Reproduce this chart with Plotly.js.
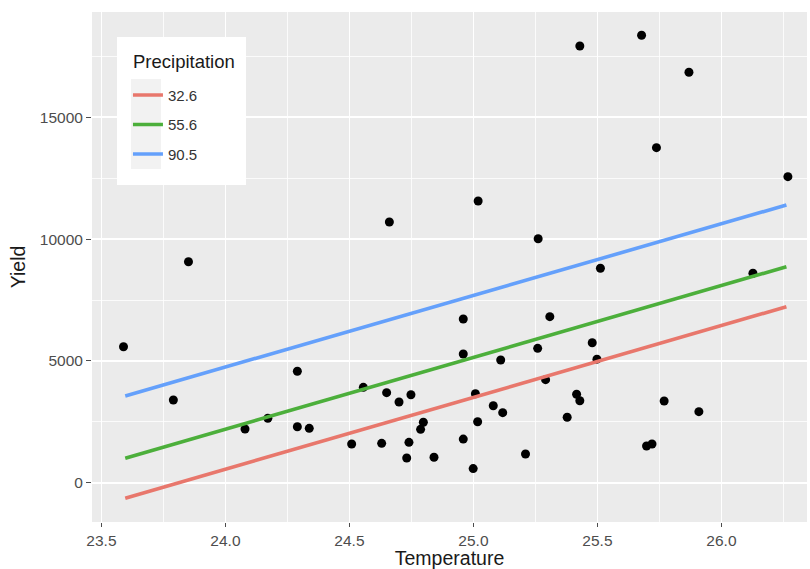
<!DOCTYPE html>
<html>
<head>
<meta charset="utf-8">
<script src="https://cdn.plot.ly/plotly-3.0.1.min.js"></script>
<style>
  html, body { margin: 0; padding: 0; background: #ffffff; }
  #chart { width: 810px; height: 569px; }
</style>
</head>
<body>
<div id="chart"></div>
<script>
// Observed points
var temperature = [23.589, 23.790, 23.851, 24.079, 24.171, 24.290, 24.290, 24.338, 24.509, 24.556,
  24.630, 24.650, 24.661, 24.700, 24.731, 24.740, 24.748, 24.787, 24.798, 24.841,
  24.959, 24.959, 24.959, 24.999, 25.008, 25.017, 25.019, 25.080, 25.110, 25.118,
  25.210, 25.259, 25.261, 25.291, 25.308, 25.378, 25.416, 25.429, 25.429, 25.479,
  25.498, 25.512, 25.678, 25.698, 25.720, 25.738, 25.769, 25.869, 25.909, 26.127, 26.268];
var yieldValues = [5583, 3395, 9072, 2204, 2644, 4573, 2299, 2233, 1589, 3916,
  1617, 3695, 10702, 3313, 1014, 1658, 3612, 2192, 2480, 1043,
  6720, 5283, 1790, 580, 3650, 2504, 11564, 3161, 5037, 2874,
  1178, 5517, 10016, 4230, 6815, 2685, 3629, 3366, 17927, 5747,
  5070, 8801, 18366, 1507, 1589, 13752, 3354, 16847, 2915, 8596, 12562];

// Fitted lines, one per precipitation level
var precipLevels = ["32.6", "55.6", "90.5"];
var lineTemperature = [23.596, 26.262];
var fitLow = [-640, 7225];
var fitMid = [1002, 8867];
var fitHigh = [3559, 11400];
var fitValues = [fitLow, fitMid, fitHigh];

var lineColors = ["#E8776C", "#4CAF3B", "#64A0FB"];

var xTicks = [23.5, 24.0, 24.5, 25.0, 25.5, 26.0];
var xTickLabels = ["23.5", "24.0", "24.5", "25.0", "25.5", "26.0"];
var yTicks = [0, 5000, 10000, 15000];
var yTickLabels = ["0", "5000", "10000", "15000"];
var legendTitle = "Precipitation";

var FONT = "Liberation Sans, Arial, Helvetica, sans-serif";

var traces = [{
  x: temperature, y: yieldValues, type: "scatter", mode: "markers",
  marker: { color: "#000000", size: 9 },
  showlegend: false, hoverinfo: "x+y"
}];
for (var i = 0; i < precipLevels.length; i++) {
  traces.push({
    x: lineTemperature, y: fitValues[i], type: "scatter", mode: "lines",
    name: precipLevels[i], legendgroup: "g" + i,
    line: { color: lineColors[i], width: 3.6 }
  });
}

var layout = {
  width: 810, height: 569,
  margin: { l: 92, r: 3, t: 12, b: 47 },
  paper_bgcolor: "#ffffff",
  plot_bgcolor: "#EBEBEB",
  font: { family: FONT, color: "#4D4D4D" },
  showlegend: true,
  legend: {
    x: 0.0503, y: 0.869, xanchor: "left", yanchor: "top",
    bgcolor: "rgba(0,0,0,0)", borderwidth: 0,
    traceorder: "grouped", tracegroupgap: 7,
    font: { family: FONT, size: 15, color: "#333333" }
  },
  annotations: [
    { text: legendTitle, xref: "paper", yref: "paper", x: 0.0545, y: 0.902,
      xanchor: "left", yanchor: "middle", showarrow: false,
      font: { family: FONT, size: 18.5, color: "#1a1a1a" } }
  ],
  xaxis: {
    range: [23.462, 26.345],
    tickvals: xTicks, ticktext: xTickLabels,
    showgrid: true, gridcolor: "#ffffff", gridwidth: 1.6,
    minor: { dtick: 0.25, tick0: 23.5, showgrid: true, gridcolor: "#ffffff", gridwidth: 0.8 },
    zeroline: false, showline: false,
    ticks: "outside", ticklen: 4, tickwidth: 1.1, tickcolor: "#4D4D4D",
    tickfont: { family: FONT, size: 15.5, color: "#4D4D4D" },
    title: { text: "Temperature", font: { family: FONT, size: 19.5, color: "#1a1a1a" }, standoff: 9 }
  },
  yaxis: {
    range: [-1613, 19322],
    tickvals: yTicks, ticktext: yTickLabels,
    showgrid: true, gridcolor: "#ffffff", gridwidth: 1.6,
    minor: { dtick: 2500, tick0: 0, showgrid: true, gridcolor: "#ffffff", gridwidth: 0.8 },
    zeroline: false, showline: false,
    ticks: "outside", ticklen: 5, tickwidth: 1.1, tickcolor: "#4D4D4D",
    tickfont: { family: FONT, size: 15.5, color: "#4D4D4D" },
    title: { text: "Yield", font: { family: FONT, size: 19.5, color: "#1a1a1a" }, standoff: 8 }
  },
  shapes: [
    { type: "rect", xref: "paper", yref: "paper", x0: 0.035, x1: 0.2154, y0: 0.6608, y1: 0.951,
      fillcolor: "#ffffff", line: { width: 0 }, layer: "above" },
    { type: "rect", xref: "paper", yref: "paper", x0: 0.0545, x1: 0.0965, y0: 0.6922, y1: 0.8686,
      fillcolor: "#F2F2F2", line: { width: 0 }, layer: "above" }
  ]
};

Plotly.newPlot("chart", traces, layout, { displayModeBar: false, staticPlot: true });
</script>
</body>
</html>
